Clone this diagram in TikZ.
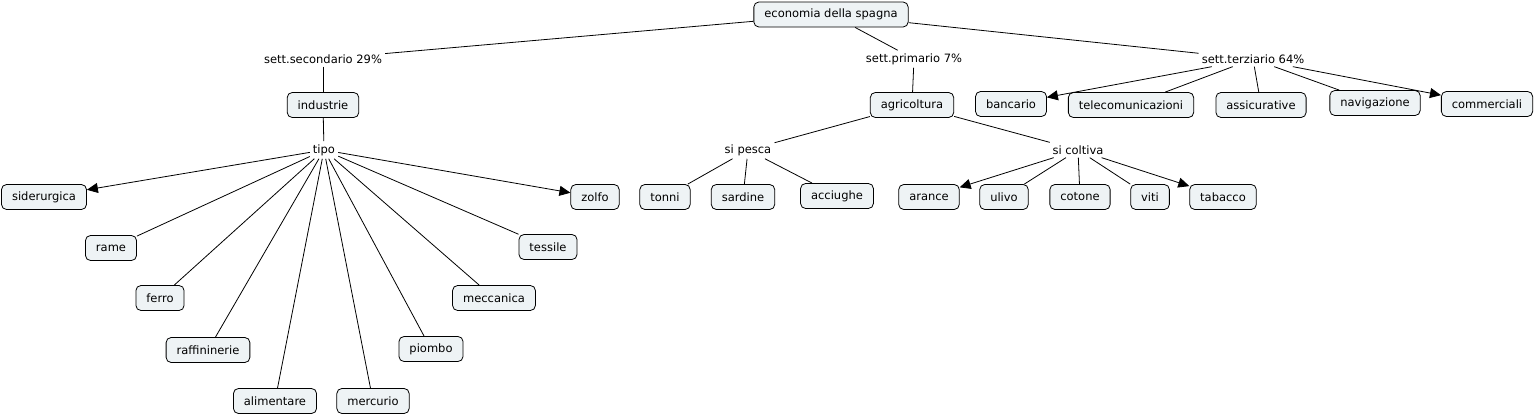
\documentclass[tikz,border=0pt]{standalone}
\usepackage{fontspec}
\setmainfont{DejaVu Sans}
\usetikzlibrary{arrows.meta}
\begin{document}
\begin{tikzpicture}[x=1pt,y=-1pt,
    concept/.style={draw, rounded corners=5pt, fill=boxfill, line width=0.8pt,
      inner xsep=10.5pt, minimum height=25pt, font=\fontsize{11.5}{12}\selectfont},
    linkword/.style={inner sep=3pt, font=\fontsize{11.5}{12}\selectfont},
    link/.style={line width=0.8pt},
    tiplink/.style={line width=0.8pt, -{Triangle[length=11pt,width=10pt]}}]
    \definecolor{boxfill}{HTML}{EEF3F5}
    \useasboundingbox (0,0) rectangle (1534,415);
    % top
    \node[concept] (spagna) at (831,14.5) {economia della spagna};
    \node[linkword] (secondario) at (323,59) {sett.secondario 29\%};
    \node[linkword] (primario) at (914,59) {sett.primario 7\%};
    \node[linkword] (terziario) at (1253,59) {sett.terziario 64\%};
    \draw[link] (spagna) -- (secondario);
    \draw[link] (spagna) -- (primario);
    \draw[link] (spagna) -- (terziario);
    % secondario
    \node[concept] (industrie) at (323,105) {industrie};
    \node[linkword] (tipo) at (324,150) {tipo};
    \node[concept] (siderurgica) at (44,197) {siderurgica};
    \node[concept] (zolfo) at (595,197) {zolfo};
    \node[concept] (rame) at (111,248) {rame};
    \node[concept] (tessile) at (548,247) {tessile};
    \node[concept] (ferro) at (160,298) {ferro};
    \node[concept] (meccanica) at (494,298) {meccanica};
    \node[concept] (raffininerie) at (208,350) {raffininerie};
    \node[concept] (piombo) at (431,349) {piombo};
    \node[concept] (alimentare) at (275,401) {alimentare};
    \node[concept] (mercurio) at (373,401) {mercurio};
    \draw[link] (secondario) -- (industrie);
    \draw[link] (industrie) -- (tipo);
    \draw[tiplink] (tipo) -- (siderurgica);
    \draw[tiplink] (tipo) -- (zolfo);
    \draw[link] (tipo) -- (rame);
    \draw[link] (tipo) -- (tessile);
    \draw[link] (tipo) -- (ferro);
    \draw[link] (tipo) -- (meccanica);
    \draw[link] (tipo) -- (raffininerie);
    \draw[link] (tipo) -- (piombo);
    \draw[link] (tipo) -- (alimentare);
    \draw[link] (tipo) -- (mercurio);
    % primario
    \node[concept] (agricoltura) at (912,105) {agricoltura};
    \node[linkword] (pesca) at (748,150) {si pesca};
    \node[linkword] (coltiva) at (1078,150) {si coltiva};
    \node[concept] (tonni) at (665,197) {tonni};
    \node[concept] (sardine) at (743,197) {sardine};
    \node[concept] (acciughe) at (837,196) {acciughe};
    \node[concept] (arance) at (929,197) {arance};
    \node[concept] (ulivo) at (1004,197) {ulivo};
    \node[concept] (cotone) at (1080,197) {cotone};
    \node[concept] (viti) at (1150,197) {viti};
    \node[concept] (tabacco) at (1223,197) {tabacco};
    \draw[link] (primario) -- (agricoltura);
    \draw[link] (agricoltura) -- (pesca);
    \draw[link] (agricoltura) -- (coltiva);
    \draw[link] (pesca) -- (tonni);
    \draw[link] (pesca) -- (sardine);
    \draw[link] (pesca) -- (acciughe);
    \draw[tiplink] (coltiva) -- (arance);
    \draw[link] (coltiva) -- (ulivo);
    \draw[link] (coltiva) -- (cotone);
    \draw[link] (coltiva) -- (viti);
    \draw[tiplink] (coltiva) -- (tabacco);
    % terziario
    \node[concept] (bancario) at (1011,104) {bancario};
    \node[concept] (telecom) at (1131,105) {telecomunicazioni};
    \node[concept] (assicurative) at (1261,105) {assicurative};
    \node[concept] (navigazione) at (1375,103) {navigazione};
    \node[concept] (commerciali) at (1487,104) {commerciali};
    \draw[tiplink] (terziario) -- (bancario);
    \draw[link] (terziario) -- (telecom);
    \draw[link] (terziario) -- (assicurative);
    \draw[link] (terziario) -- (navigazione);
    \draw[tiplink] (terziario) -- (commerciali);
\end{tikzpicture}
\end{document}
